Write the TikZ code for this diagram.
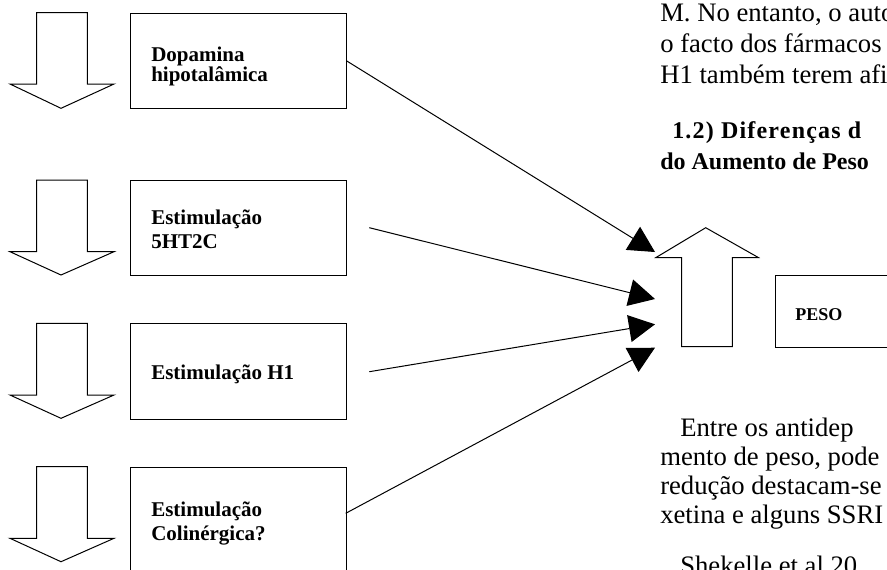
\documentclass[tikz,border=0pt]{standalone}
\usepackage{fontspec}
\setmainfont{Liberation Serif}
\usetikzlibrary{arrows.meta}
\begin{document}
\begin{tikzpicture}[x=0.75pt,y=-0.75pt,
  outline/.style={draw=black, line width=0.75pt, fill=white},
  boxnode/.style={draw=black, line width=0.75pt, inner sep=0, anchor=north west, minimum width=161.55pt, minimum height=71.6pt},
  boxtext/.style={anchor=base west, inner sep=0, font=\fontsize{15.75pt}{18pt}\selectfont\bfseries},
  pesotext/.style={anchor=base west, inner sep=0, font=\fontsize{13.5pt}{16pt}\selectfont\bfseries},
  bodytext/.style={anchor=base west, inner sep=0, font=\fontsize{20pt}{24pt}\selectfont},
  headtext/.style={anchor=base west, inner sep=0, font=\fontsize{18pt}{22pt}\selectfont\bfseries},
  link/.style={draw=black, line width=0.75pt, -{Triangle[length=19.5pt,width=20.25pt]}}
]
\useasboundingbox (0,0) rectangle (887,569);
\clip (0,0) rectangle (887,569);

% down block arrows
\foreach \T/\W/\P in {12.7/84/108.3, 180/251.7/275, 323.3/395/418.3, 466.7/538.3/561.7}
  \draw[outline] (36.7,\T) -- (87.3,\T) -- (87.3,\W) -- (114,\W) -- (61,\P) -- (10,\W) -- (36.7,\W) -- cycle;

% boxes
\node[boxnode] (b1) at (130.3,12.7) {};
\node[boxnode] (b2) at (130.3,180) {};
\node[boxnode] (b3) at (130.3,323.3) {};
\node[boxnode, minimum height=82.5pt] (b4) at (130.3,466.7) {};

\node[boxtext] (l1a) at (151,61) {Dopamina};
\node[boxtext] (l1b) at (151,81.7) {hipotalâmica};
\node[boxtext] (l2a) at (151,224) {Estimulação};
\node[boxtext] (l2b) at (151,248.3) {5HT2C};
\node[boxtext] (l3a) at (151,379) {Estimulação H1};
\node[boxtext] (l4a) at (151,516) {Estimulação};
\node[boxtext] (l4b) at (151,540.7) {Colinérgica?};

% up block arrow
\draw[outline] (681.7,346.7) -- (681.7,257.5) -- (656,257.5) -- (705.7,227.7) -- (758.3,257.5) -- (732.3,257.5) -- (732.3,346.7) -- cycle;

% PESO box
\node[draw=black, line width=0.75pt, inner sep=0, anchor=north west, minimum width=93.75pt, minimum height=53.8pt] (peso) at (775,275) {};
\node[pesotext] (pesol) at (795,320) {PESO};

% connectors
\coordinate (s2) at (369.3,227.7);
\coordinate (s3) at (369.3,371.7);
\coordinate (s4) at (345.7,513.3);
\coordinate (t1) at (655,252);
\coordinate (t2) at (655,299);
\coordinate (t3) at (655,324.3);
\coordinate (t4) at (655,347.7);
\draw[link] (b1.east) -- (t1);
\draw[link] (s2) -- (t2);
\draw[link] (s3) -- (t3);
\draw[link] (s4) -- (t4);

% surrounding page text
\node[bodytext] (p1) at (660,21) {M. No entanto, o autor};
\node[bodytext] (p2) at (660,52) {o facto dos fármacos c};
\node[bodytext] (p3) at (660,83) {H1 também terem afi};
\node[headtext] (h1) at (672,138) {\addfontfeatures{LetterSpace=5}1.2) Diferenças d};
\node[headtext] (h2) at (660,169) {do Aumento de Peso};
\node[bodytext] (q1) at (680,436) {Entre os antidep};
\node[bodytext] (q2) at (660,465) {mento de peso, pode};
\node[bodytext] (q3) at (660,494) {redução destacam-se};
\node[bodytext] (q4) at (660,523) {xetina e alguns SSRI};
\node[bodytext] (q5) at (680,574) {Shekelle et al 20};
\end{tikzpicture}
\end{document}
